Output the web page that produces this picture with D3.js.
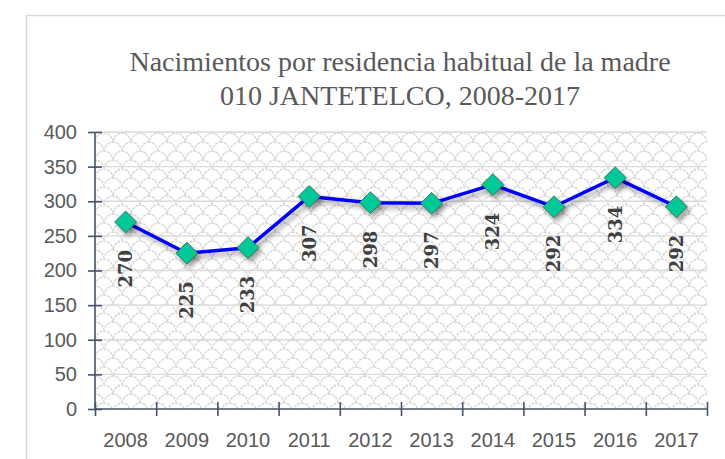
<!DOCTYPE html>
<html>
<head>
<meta charset="utf-8">
<script src="https://cdn.jsdelivr.net/npm/d3@7"></script>
<style>
  body { margin: 0; background: #fff; }
  svg { display: block; }
  .axis path, .axis line { stroke: #44546a; stroke-width: 1.6; }
  .axis text { font-family: "Liberation Sans", Arial, sans-serif; font-size: 20px; fill: #595959; }
  .title { font-family: "Liberation Serif", serif; font-size: 28px; fill: #595959; }
  .label { font-family: "DejaVu Serif", serif; font-weight: bold; font-size: 18px; fill: #404040; }
</style>
</head>
<body>
<svg width="725" height="459"></svg>
<script>
var years = ['2008','2009','2010','2011','2012','2013','2014','2015','2016','2017'];
var births = [270, 225, 233, 307, 298, 297, 324, 292, 334, 292];
var yTicks = [0, 50, 100, 150, 200, 250, 300, 350, 400];
var titleLines = ['Nacimientos por residencia habitual de la madre', '010 JANTETELCO, 2008-2017'];

var svg = d3.select('svg');
var plotL = 95, plotR = 707, plotT = 132, plotB = 409;

// outer chart border
svg.append('path')
    .attr('d', 'M26.5,470 V15.5 H730')
    .attr('fill', 'none')
    .attr('stroke', '#d9d9d9')
    .attr('stroke-width', 1.5);

var defs = svg.append('defs');
var pat = defs.append('pattern')
    .attr('id', 'shingle')
    .attr('patternUnits', 'userSpaceOnUse')
    .attr('width', 18).attr('height', 18)
    .attr('x', plotL).attr('y', plotT);
pat.append('rect').attr('width', 18).attr('height', 18).attr('fill', '#fff');
pat.append('path')
    .attr('d', 'M0,9 C2,3 6,1 9,1 C12,1 16,3 18,9 M-9,18 C-7,12 -3,10 0,10 C3,10 7,12 9,18 C11,12 15,10 18,10 C21,10 25,12 27,18')
    .attr('fill', 'none')
    .attr('stroke', '#d6d6d6')
    .attr('stroke-width', 1.4)
    .attr('stroke-dasharray', '3,1');

var shadow = defs.append('filter').attr('id', 'shadow')
    .attr('x', '-30%').attr('y', '-30%').attr('width', '160%').attr('height', '160%');
shadow.append('feDropShadow')
    .attr('dx', 3).attr('dy', 4).attr('stdDeviation', 2.5)
    .attr('flood-color', '#000').attr('flood-opacity', 0.35);

var x = d3.scaleBand().domain(years).range([plotL, plotR]);
var xEdge = d3.scaleLinear().domain([0, years.length]).range([plotL, plotR]);
var y = d3.scaleLinear().domain([0, 400]).range([plotB, plotT]);

// plot area with pattern
svg.append('rect')
    .attr('x', plotL).attr('y', plotT)
    .attr('width', plotR - plotL).attr('height', plotB - plotT)
    .attr('fill', 'url(#shingle)');

// gridlines
svg.append('g').selectAll('line')
    .data(yTicks.slice(1))
    .enter().append('line')
    .attr('x1', plotL).attr('x2', plotR)
    .attr('y1', function(d){ return y(d); })
    .attr('y2', function(d){ return y(d); })
    .attr('stroke', '#d9d9d9')
    .attr('stroke-width', 1.3);

// title
svg.append('text')
    .attr('class', 'title')
    .attr('text-anchor', 'middle')
    .selectAll('tspan')
    .data(titleLines)
    .enter().append('tspan')
    .attr('x', 400)
    .attr('y', function(d, i){ return 71 + i * 34; })
    .text(function(d){ return d; });

// y axis
var yAxis = svg.append('g').attr('class', 'y axis')
    .attr('transform', 'translate(' + plotL + ',0)')
    .call(d3.axisLeft(y).tickValues(yTicks).tickSize(7).tickPadding(11));
yAxis.selectAll('.tick line').attr('x2', -7).attr('x1', 7);
yAxis.select('.domain').attr('d', 'M0,' + plotT + 'V' + plotB);

// x axis boundary ticks
var xAxis = svg.append('g').attr('class', 'x axis')
    .attr('transform', 'translate(0,' + plotB + ')')
    .call(d3.axisBottom(xEdge).tickValues(d3.range(years.length + 1)).tickFormat('').tickSize(7));
xAxis.selectAll('.tick line').attr('y1', -7).attr('y2', 7);
xAxis.select('.domain').attr('d', 'M' + plotL + ',0H' + plotR);

// x labels
var xLab = svg.append('g').attr('class', 'x axis')
    .attr('transform', 'translate(0,' + plotB + ')')
    .call(d3.axisBottom(x).tickSize(0).tickPadding(24));
xLab.select('.domain').remove();

// line
var line = d3.line()
    .x(function(d, i){ return x(years[i]) + x.bandwidth() / 2; })
    .y(function(d){ return y(d); });

svg.append('path')
    .datum(births)
    .attr('d', line)
    .attr('fill', 'none')
    .attr('stroke', '#0000ff')
    .attr('stroke-width', 3.5)
    .attr('stroke-linejoin', 'round')
    .attr('filter', 'url(#shadow)');

// markers
var pts = svg.selectAll('.pt')
    .data(births)
    .enter().append('g')
    .attr('class', 'pt')
    .attr('transform', function(d, i){
        return 'translate(' + (x(years[i]) + x.bandwidth() / 2) + ',' + y(d) + ')';
    });

pts.append('path')
    .attr('d', 'M0,-11 L11,0 L0,11 L-11,0 Z')
    .attr('fill', '#00c896')
    .attr('stroke', '#3f5a52')
    .attr('stroke-width', 0.8)
    .attr('filter', 'url(#shadow)');

pts.append('text')
    .attr('class', 'label')
    .attr('transform', 'translate(0,28) rotate(-90)')
    .attr('text-anchor', 'end')
    .attr('dy', '0.36em')
    .text(function(d){ return d; });
</script>
</body>
</html>
